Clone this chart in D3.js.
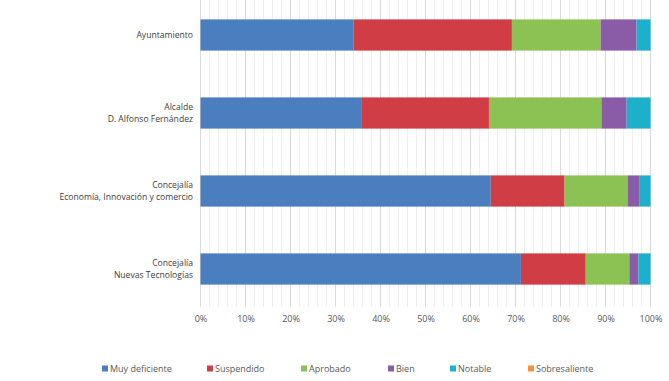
<!DOCTYPE html>
<html>
<head>
<meta charset="utf-8">
<script src="https://cdnjs.cloudflare.com/ajax/libs/d3/7.8.5/d3.min.js"></script>
<style>
  body { margin: 0; background: #fff; }
  svg text { font-family: "Open Sans", sans-serif; }
</style>
</head>
<body>
<svg id="chart" width="669" height="381"></svg>
<script>
// categories (top to bottom), each label split in lines
var categories = ["Ayuntamiento", "Alcalde|D. Alfonso Fernández",
    "Concejalía|Economía, Innovación y comercio", "Concejalía|Nuevas Tecnologías"];

// series names and their shares (%) per category
var seriesNames = ["Muy deficiente", "Suspendido", "Aprobado", "Bien", "Notable", "Sobresaliente"];
var muyDeficiente = [34.0, 35.7, 64.5, 71.2];
var suspendido    = [35.2, 28.4, 16.4, 14.4];
var aprobado      = [19.7, 25.0, 14.0,  9.7];
var bien          = [ 8.0,  5.6,  2.7,  2.0];
var notable       = [ 3.1,  5.3,  2.4,  2.7];
var sobresaliente = [ 0.0,  0.0,  0.0,  0.0];
var colors = ["#4a7ebe", "#d13d44", "#8cc153", "#8a5ba6", "#1cb0cb", "#f7923a"];

var tickValues = [0, 10, 20, 30, 40, 50, 60, 70, 80, 90, 100];

var allSeries = [muyDeficiente, suspendido, aprobado, bien, notable, sobresaliente];

var rows = categories.map(function (c, i) {
    var r = { cat: c };
    seriesNames.forEach(function (s, j) { r[s] = allSeries[j][i]; });
    return r;
});

var svg = d3.select("#chart");

var xScale = d3.scaleLinear().domain([0, 100]).range([200.5, 650.5]);
var yScale = d3.scaleBand().domain(categories).range([-4, 308]).paddingInner(0.6).paddingOuter(0.3);

// gridlines: minor every 2%, major every 10%
var grid = svg.append("g");
grid.selectAll("line.minor")
    .data(d3.range(0, 101, 2).filter(function (d) { return d % 10 !== 0; }))
    .enter().append("line")
    .attr("x1", function (d) { return xScale(d); })
    .attr("x2", function (d) { return xScale(d); })
    .attr("y1", 0).attr("y2", 307)
    .attr("stroke", "#efefef").attr("stroke-width", 1);
grid.selectAll("line.major")
    .data(tickValues)
    .enter().append("line")
    .attr("x1", function (d) { return xScale(d); })
    .attr("x2", function (d) { return xScale(d); })
    .attr("y1", 0).attr("y2", 307)
    .attr("stroke", "#d9d9d9").attr("stroke-width", 1);

// stacked bars
var stack = d3.stack().keys(seriesNames);
var layers = stack(rows);

svg.append("g").selectAll("g")
    .data(layers)
    .enter().append("g")
    .attr("fill", function (d, i) { return colors[i]; })
    .selectAll("rect")
    .data(function (d) { return d; })
    .enter().append("rect")
    .attr("x", function (d) { return xScale(d[0]); })
    .attr("width", function (d) { return Math.max(0, xScale(d[1]) - xScale(d[0])); })
    .attr("y", function (d) { return yScale(d.data.cat); })
    .attr("height", yScale.bandwidth());

// x axis
var xAxis = d3.axisBottom(xScale)
    .tickValues(tickValues)
    .tickSize(0)
    .tickPadding(9)
    .tickFormat(function (d) { return d + "%"; });

var xg = svg.append("g")
    .attr("transform", "translate(0,307)")
    .call(xAxis);
xg.select(".domain").remove();
xg.selectAll("text")
    .attr("fill", "#595959")
    .style("font-size", "9px");

// category labels
var yAxis = d3.axisLeft(yScale).tickSize(0).tickPadding(7).tickFormat("");
var yg = svg.append("g")
    .attr("transform", "translate(200,0)")
    .call(yAxis);
yg.select(".domain").remove();
yg.selectAll(".tick").each(function (d) {
    var lines = d.split("|");
    var t = d3.select(this).select("text")
        .attr("x", -7)
        .attr("fill", "#404040")
        .style("font-size", "8.6px")
        .attr("text-anchor", "end")
        .attr("dy", null);
    lines.forEach(function (l, k) {
        t.append("tspan")
            .attr("x", -7)
            .attr("y", (k - (lines.length - 1) / 2) * 12 + 3)
            .text(l);
    });
});

// legend
var legendX = [102, 207, 301, 388, 450, 528];
var legend = svg.append("g").selectAll("g")
    .data(seriesNames)
    .enter().append("g")
    .attr("transform", function (d, i) { return "translate(" + legendX[i] + ",369)"; });
legend.append("rect")
    .attr("x", 0).attr("y", -3.5)
    .attr("width", 6).attr("height", 6)
    .attr("fill", function (d, i) { return colors[i]; });
legend.append("text")
    .attr("x", 8).attr("y", 3)
    .attr("fill", "#595959")
    .style("font-size", "9px")
    .text(function (d) { return d; });
</script>
</body>
</html>
